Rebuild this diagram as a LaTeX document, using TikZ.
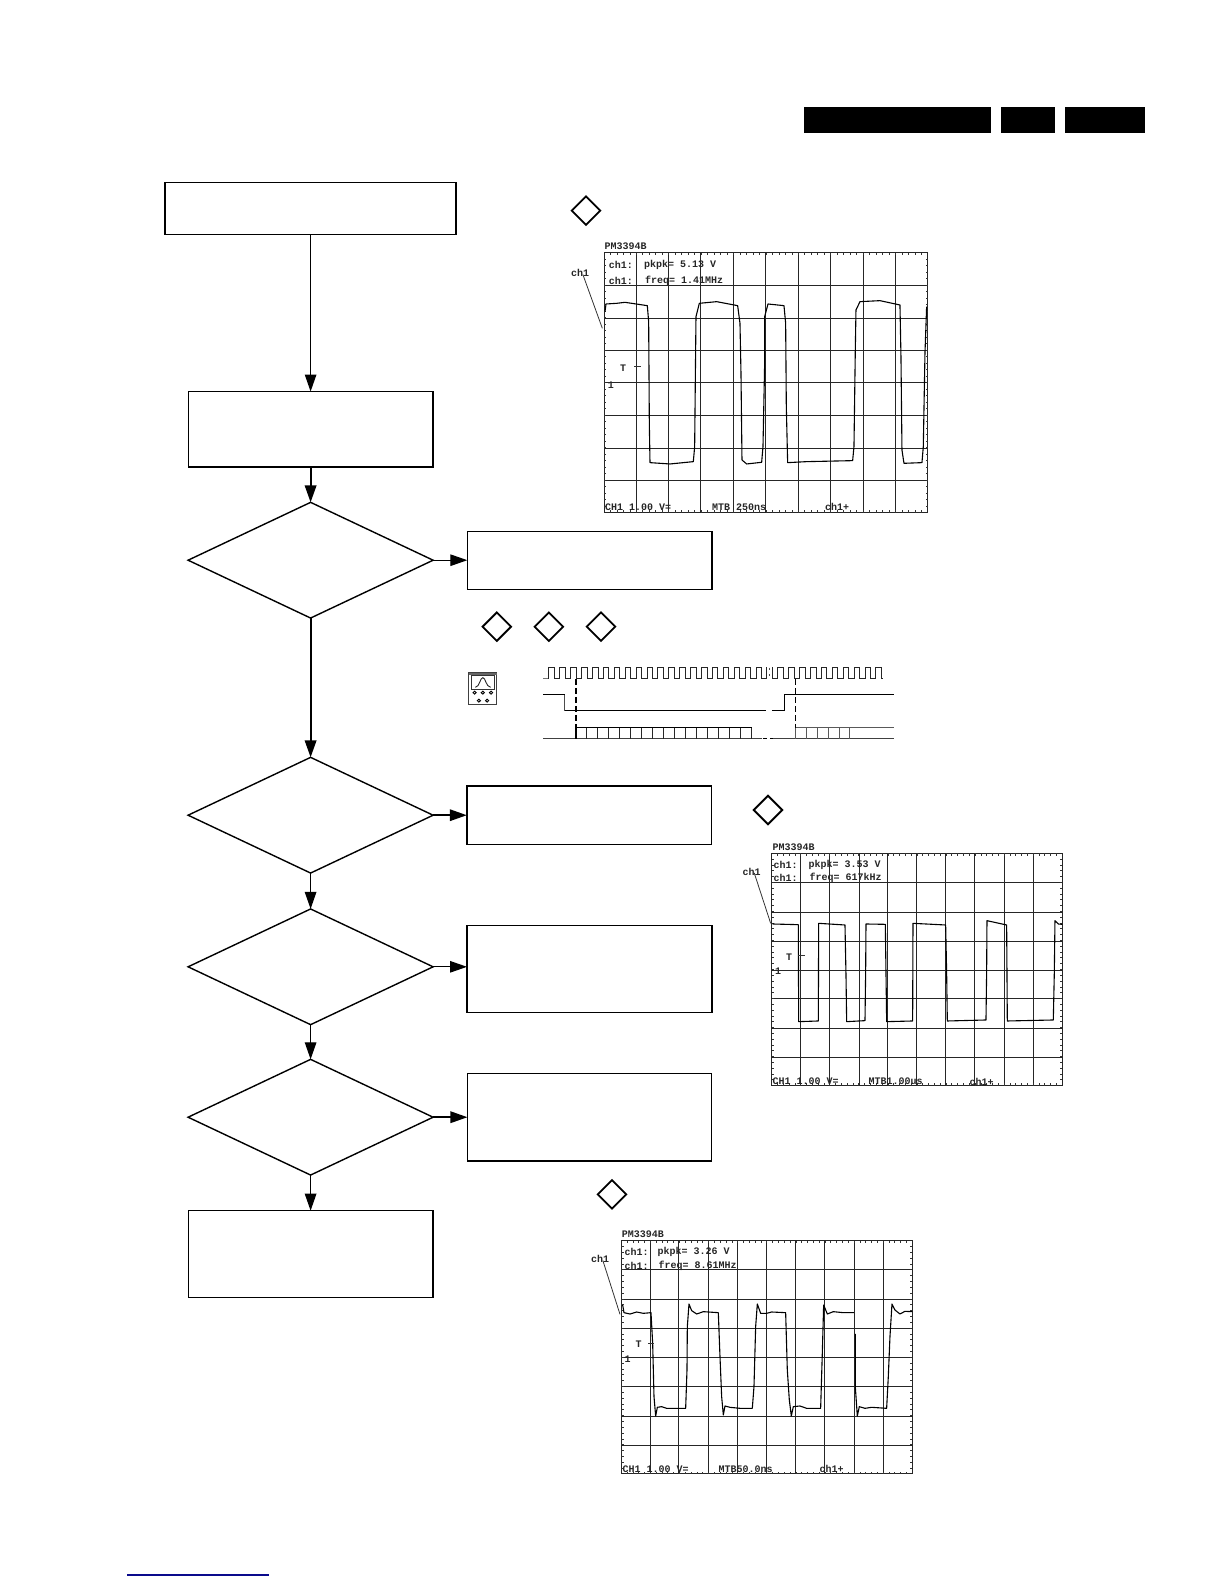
\documentclass[tikz,border=0pt]{standalone}
\usepackage{fontspec}
\setmonofont{Liberation Mono}
\usetikzlibrary{shapes.geometric,arrows.meta}
\tikzset{
  fbox/.style={draw=black,line width=1.4pt,fill=white,rectangle,inner sep=0pt,outer sep=0pt},
  fdia/.style={draw=black,line width=1.4pt,fill=white,diamond,aspect=2,inner sep=0pt,outer sep=0pt,minimum width=245pt,minimum height=115.7pt},
  mark dia/.style={draw=black,line width=1.8pt,diamond,aspect=1,inner sep=0pt,outer sep=0pt,minimum width=28.5pt,minimum height=28.5pt},
  flow/.style={draw=black,line width=1.2pt,-{Triangle[length=17pt,width=11.5pt]}},
  flow thick/.style={flow,line width=2pt},
  blackbar/.style={fill=black,draw=none,rectangle,inner sep=0pt,outer sep=0pt},
  grid line/.style={draw=black!85,line width=1pt},
  wave/.style={draw=black,line width=1.1pt,line join=round},
  scope text/.style={anchor=west,inner sep=0pt,font=\ttfamily\bfseries\fontsize{10}{11}\selectfont,text=black!85},
  lead/.style={draw=black!80,line width=.8pt}
}
\newcommand{\scopeframe}[6]{%
  \draw[grid line] (#1,#3) rectangle (#2,#4);
  \foreach \gx in {#5} \draw[grid line] (\gx,#3) -- (\gx,#4);
  \foreach \gy in {#6} \draw[grid line] (#1,\gy) -- (#2,\gy);
  \foreach \ti in {1,...,49} {
    \draw[line width=.8pt,black!80] ({#1+\ti/50*(#2-#1)},#3) -- ++(0,7);
    \draw[line width=.8pt,black!80] ({#1+\ti/50*(#2-#1)},#4) -- ++(0,-7);
  }
  \foreach \ti in {1,...,39} {
    \draw[line width=.8pt,black!80] (#1,{#3+\ti/40*(#4-#3)}) -- ++(7,0);
    \draw[line width=.8pt,black!80] (#2,{#3+\ti/40*(#4-#3)}) -- ++(-7,0);
  }
}
\begin{document}
\begin{tikzpicture}[x=1pt,y=-1pt]
\useasboundingbox (0,0) rectangle (1224,1584);

% header bars and footer line
\node[blackbar,minimum width=187pt,minimum height=25.7pt] (barA) at (897.5,119.8) {};
\node[blackbar,minimum width=54pt,minimum height=25.7pt] (barB) at (1028,119.8) {};
\node[blackbar,minimum width=80pt,minimum height=25.7pt] (barC) at (1105,119.8) {};
\definecolor{footblue}{RGB}{10,10,140}
\draw[footblue,line width=1.1pt] (127,1575) -- (269,1575);

% flow chart
\node[fbox,minimum width=291pt,minimum height=52pt] (b1) at (310.6,208.3) {};
\node[fbox,minimum width=244.5pt,minimum height=75.5pt] (b2) at (310.6,429.3) {};
\node[fdia] (d1) at (310.6,560.2) {};
\node[fbox,minimum width=244.5pt,minimum height=58pt] (b3) at (589.6,560.3) {};
\node[fdia] (d2) at (310.6,815.2) {};
\node[fbox,minimum width=244.8pt,minimum height=58.3pt] (b4) at (589.2,815.2) {};
\node[fdia] (d3) at (310.6,966.8) {};
\node[fbox,minimum width=244.8pt,minimum height=87pt] (b5) at (589.4,969.2) {};
\node[fdia] (d4) at (310.6,1117.2) {};
\node[fbox,minimum width=244.3pt,minimum height=87.3pt] (b6) at (589.6,1117.3) {};
\node[fbox,minimum width=244.5pt,minimum height=87pt] (b7) at (310.6,1254.2) {};

\draw[flow] (b1.south) -- (b2.north);
\draw[flow thick] (b2.south) -- (d1.north);
\draw[flow thick] (d1.south) -- (d2.north);
\draw[flow] (d2.south) -- (d3.north);
\draw[flow] (d3.south) -- (d4.north);
\draw[flow] (d4.south) -- (b7.north);
\draw[flow] (d1.east) -- (d1.east -| b3.west);
\draw[flow,line width=1.7pt] (d2.east) -- (d2.east -| b4.west);
\draw[flow] (d3.east) -- (d3.east -| b5.west);
\draw[flow,line width=1.7pt] (d4.east) -- (d4.east -| b6.west);

% small diamond markers
\node[mark dia] (m1) at (586,210.7) {};
\node[mark dia] (m2) at (496.8,626.7) {};
\node[mark dia] (m3) at (548.9,626.7) {};
\node[mark dia] (m4) at (601,626.7) {};
\node[mark dia] (m5) at (768,810) {};
\node[mark dia] (m6) at (612,1194.3) {};

% instrument icon
\begin{scope}[shift={(170,490)},x=.3571pt,y=-.3333pt]
  \draw[black!75,line width=1pt] (837,548) rectangle (915,645);
  \fill[black!60] (837,548) rectangle (915,556);
  \draw[black!80,line width=.9pt] (845,556) rectangle (908,597);
  \draw[black!85,line width=.9pt] (855,592) .. controls (868,590) and (868,563) .. (876,563) .. controls (884,563) and (884,590) .. (898,592);
  \foreach \kx/\ky in {853/608,876/608,899/608,865/632,888/632}
    \draw[black,line width=.9pt] (\kx,\ky) circle[radius=4.5];
\end{scope}

% timing diagram
\begin{scope}[shift={(450,600)},x=.3333pt,y=-.3333pt]
  \draw[black!55,line width=1pt] (280,237) -- (297,237);
  \foreach \k in {0,...,30} {
    \pgfmathsetmacro{\xa}{297+32.7*\k}
    \pgfmathsetmacro{\xb}{\xa+16.5}
    \pgfmathsetmacro{\xc}{\xa+32.7}
    \draw[black!85,line width=1pt] (\xa,237) -- (\xa,203) -- (\xb,203) -- (\xb,237) -- (\xc,237);
  }
  \fill[white] (1298,200) rectangle (1340,240);
  \fill[white] (950,200) rectangle (966,240);
  \draw[black!70,line width=.8pt] (957,203) -- (957,209) (957,222) -- (957,228);
  \draw[black,line width=1pt] (280,285) -- (345,285);
  \draw[black!70,line width=1pt] (345,285) -- (345,333);
  \draw[black,line width=1pt] (345,333) -- (948,333);
  \draw[black,line width=1pt] (966,333) -- (1003,333) -- (1003,285) -- (1332,285);
  \draw[black,line width=1.5pt,dash pattern=on 6pt off 3pt] (378,237) -- (378,383);
  \draw[black,line width=.8pt,dash pattern=on 6pt off 3pt] (1037,237) -- (1037,383);
  \draw[black!75,line width=1.2pt] (280,416) -- (935,416);
  \draw[black,line width=1.2pt] (938,416) -- (950,416) (960,416) -- (968,416);
  \draw[black!75,line width=1.2pt] (970,416) -- (1332,416);
  \draw[black,line width=1.4pt] (378,383) -- (905,383);
  \foreach \vx in {378,411,444,477,510,543,576,609,642,675,708,741,774,807,840,873,905}
    \draw[black!85,line width=1pt] (\vx,383) -- (\vx,416);
  \draw[black,line width=1.5pt] (378,383) -- (378,416);
  \draw[black!65,line width=1pt] (1037,383) -- (1332,383);
  \foreach \vx in {1037,1070,1103,1136,1169,1200}
    \draw[black!65,line width=1pt] (\vx,383) -- (\vx,416);
\end{scope}

% oscilloscope 1
\begin{scope}[shift={(560,190)},x=.3333pt,y=-.3333pt]
  \scopeframe{132}{1104}{188}{968}{229,325,423,520,617,715,811,910,1007}{286,385,482,578,676,775,872}
  \draw[wave] (135,365) -- (138,342) -- (170,340) -- (195,337) -- (262,347) -- (266,395) -- (268,700) -- (270,818) -- (330,822) -- (400,815) -- (404,770) -- (406,570) -- (408,380) -- (418,340) -- (470,335) -- (533,347) -- (540,400) -- (543,550) -- (546,810) -- (560,822) -- (605,817) -- (609,770) -- (614,520) -- (614,380) -- (624,342) -- (672,347) -- (677,400) -- (679,650) -- (683,818) -- (740,815) -- (878,812) -- (882,770) -- (886,480) -- (888,360) -- (900,335) -- (960,332) -- (1020,345) -- (1023,500) -- (1026,780) -- (1032,820) -- (1086,818) -- (1090,770) -- (1095,490) -- (1100,350);
  \node[scope text] (s1t) at (133,168) {PM3394B};
  \node[scope text] (s1a) at (146,225) {ch1:};
  \node[scope text] (s1b) at (252,225) {pkpk= 5.13 V};
  \node[scope text] (s1c) at (146,273) {ch1:};
  \node[scope text] (s1d) at (255,273) {freq= 1.41MHz};
  \node[scope text] (s1e) at (135,952) {CH1 1.00 V=};
  \node[scope text] (s1f) at (456,952) {MTB 250ns};
  \node[scope text] (s1g) at (795,952) {ch1+};
  \node[scope text] (s1h) at (33,250) {ch1};
  \node[scope text] (s1i) at (180,535) {T};
  \node[scope text] (s1j) at (143,585) {1};
  \draw[lead] (s1h.south) ++(8,-8) -- (127,415);
  \draw[lead] (222,530) -- (243,530);
\end{scope}

% oscilloscope 2
\begin{scope}[shift={(730,790)},x=.3333pt,y=-.3333pt]
  \scopeframe{125}{997}{190}{887}{212,298,388,474,561,648,735,824,910}{278,367,454,541,627,716,803}
  \draw[wave] (128,402) -- (205,404) -- (206,695) -- (265,693) -- (266,400) -- (345,405) -- (348,555) -- (350,695) -- (405,692) -- (407,545) -- (408,402) -- (466,403) -- (470,695) -- (548,693) -- (549,400) -- (647,405) -- (650,550) -- (652,693) -- (768,690) -- (770,545) -- (771,392) -- (830,405) -- (832,693) -- (970,690) -- (973,550) -- (975,392) -- (985,402) -- (997,403);
  \node[scope text] (s2t) at (127,171) {PM3394B};
  \node[scope text] (s2a) at (130,225) {ch1:};
  \node[scope text] (s2b) at (235,225) {pkpk= 3.53 V};
  \node[scope text] (s2c) at (130,265) {ch1:};
  \node[scope text] (s2d) at (238,265) {freq=  617kHz};
  \node[scope text] (s2e) at (127,875) {CH1 1.00 V=};
  \node[scope text] (s2f) at (415,875) {MTB1.00us};
  \node[scope text] (s2g) at (718,875) {ch1+};
  \node[scope text] (s2h) at (37,245) {ch1};
  \node[scope text] (s2i) at (168,502) {T};
  \node[scope text] (s2j) at (135,545) {1};
  \draw[lead] (s2h.south) ++(8,-8) -- (122,400);
  \draw[lead] (205,497) -- (225,497);
\end{scope}

% oscilloscope 3
\begin{scope}[shift={(580,1170)},x=.3333pt,y=-.3333pt]
  \scopeframe{124}{997}{212}{912}{210,297,385,472,560,647,734,824,910}{298,388,475,562,650,740,827}
  \draw[wave] (128,405) -- (132,428) -- (150,432) -- (170,426) -- (190,430) -- (213,428) -- (218,520) -- (222,680) -- (227,738) -- (232,712) -- (245,710) -- (260,715) -- (290,715) -- (317,715) -- (321,600) -- (322,470) -- (327,402) -- (335,422) -- (350,432) -- (370,425) -- (415,428) -- (420,560) -- (425,680) -- (430,735) -- (435,708) -- (450,712) -- (480,715) -- (517,715) -- (522,650) -- (527,470) -- (532,402) -- (542,430) -- (560,430) -- (575,426) -- (617,428) -- (622,600) -- (628,690) -- (634,738) -- (640,710) -- (660,708) -- (680,715) -- (722,715) -- (727,550) -- (731,405) -- (742,432) -- (760,425) -- (790,428) -- (822,428);
  \draw[wave] (826,492) -- (826,650) -- (832,738) -- (838,710) -- (855,715) -- (875,712) -- (920,715) -- (925,620) -- (930,500) -- (936,402) -- (945,420) -- (960,432) -- (975,424) -- (997,425);
  \node[scope text] (s3t) at (125,193) {PM3394B};
  \node[scope text] (s3a) at (133,245) {ch1:};
  \node[scope text] (s3b) at (232,245) {pkpk= 3.26 V};
  \node[scope text] (s3c) at (133,287) {ch1:};
  \node[scope text] (s3d) at (235,287) {freq= 8.61MHz};
  \node[scope text] (s3e) at (127,898) {CH1 1.00 V=};
  \node[scope text] (s3f) at (415,898) {MTB50.0ns};
  \node[scope text] (s3g) at (718,898) {ch1+};
  \node[scope text] (s3h) at (33,268) {ch1};
  \node[scope text] (s3i) at (166,522) {T};
  \node[scope text] (s3j) at (133,567) {1};
  \draw[lead] (s3h.south) ++(8,-8) -- (120,433);
  \draw[lead] (205,520) -- (222,520);
\end{scope}
\end{tikzpicture}
\end{document}
